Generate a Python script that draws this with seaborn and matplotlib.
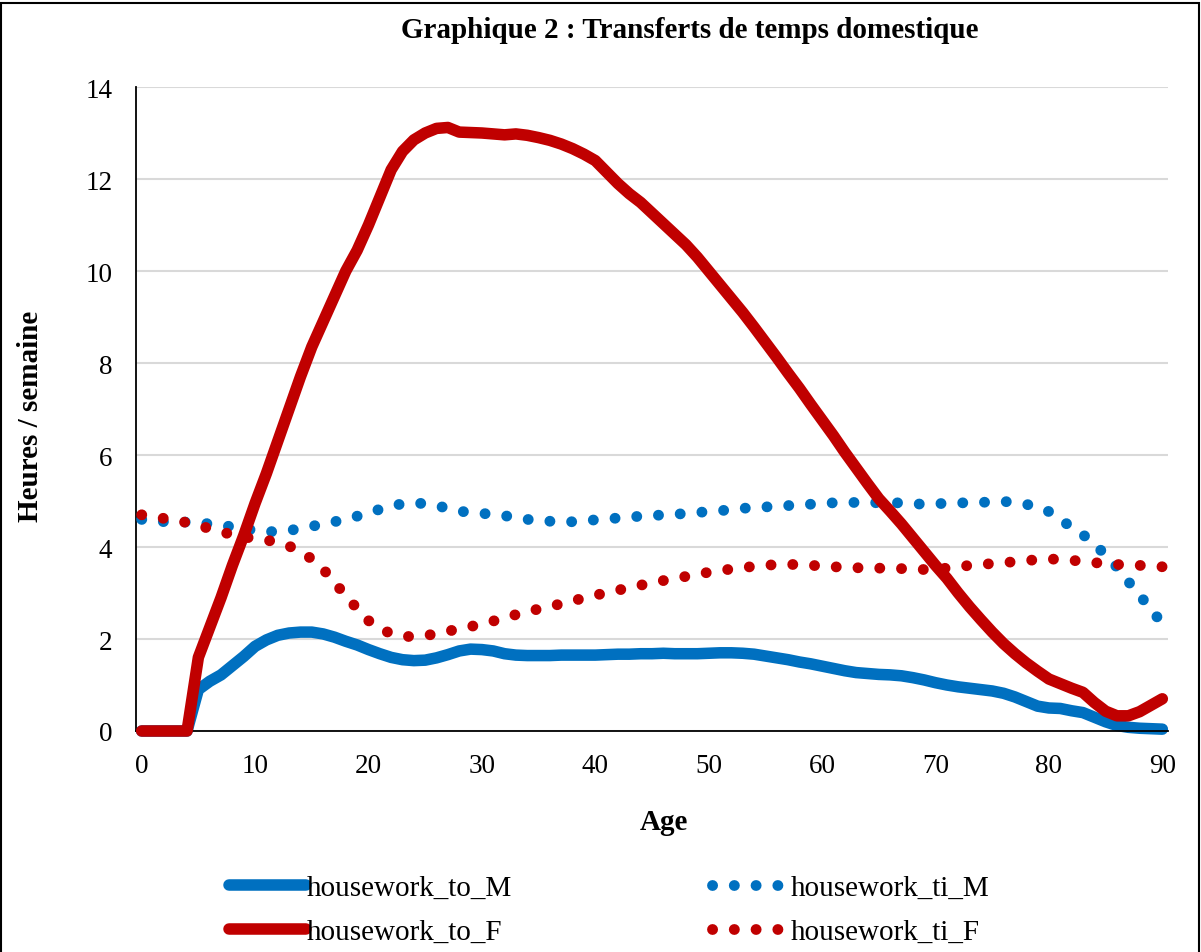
import numpy as np
import pandas as pd
import matplotlib
matplotlib.use("Agg")
import matplotlib.pyplot as plt
import matplotlib.patches as mpatches
import seaborn as sns

# ── Data (hours / week by age) ─────────────────────────────────
ages = list(range(0, 91))

housework_to_M = [
    0, 0, 0, 0, 0, 0.90, 1.08, 1.22, 1.42, 1.62,
    1.84, 1.98, 2.08, 2.13, 2.15, 2.15, 2.11, 2.04, 1.95, 1.87,
    1.77, 1.68, 1.60, 1.55, 1.53, 1.54, 1.59, 1.66, 1.74, 1.78,
    1.77, 1.74, 1.68, 1.65, 1.64, 1.64, 1.64, 1.65, 1.65, 1.65,
    1.65, 1.66, 1.67, 1.67, 1.68, 1.68, 1.69, 1.68, 1.68, 1.68,
    1.69, 1.70, 1.70, 1.69, 1.67, 1.63, 1.59, 1.55, 1.50, 1.46,
    1.41, 1.36, 1.31, 1.27, 1.25, 1.23, 1.22, 1.20, 1.16, 1.11,
    1.05, 1.00, 0.96, 0.93, 0.90, 0.87, 0.82, 0.74, 0.64, 0.54,
    0.50, 0.49, 0.44, 0.40, 0.30, 0.20, 0.12, 0.08, 0.06, 0.05,
    0.04,
]

housework_to_F = [
    0, 0, 0, 0, 0, 1.60, 2.25, 2.90, 3.60, 4.25,
    4.95, 5.60, 6.30, 7.00, 7.70, 8.35, 8.90, 9.45, 10.00, 10.45,
    11.00, 11.60, 12.20, 12.60, 12.85, 13.00, 13.10, 13.12, 13.02, 13.01,
    13.00, 12.98, 12.96, 12.98, 12.95, 12.90, 12.84, 12.76, 12.66, 12.54,
    12.40, 12.15, 11.90, 11.68, 11.49, 11.26, 11.03, 10.80, 10.57, 10.30,
    10.00, 9.70, 9.40, 9.10, 8.78, 8.45, 8.12, 7.78, 7.45, 7.10,
    6.76, 6.42, 6.06, 5.72, 5.38, 5.05, 4.78, 4.50, 4.20, 3.90,
    3.60, 3.32, 3.00, 2.70, 2.42, 2.15, 1.90, 1.68, 1.48, 1.30,
    1.13, 1.03, 0.93, 0.84, 0.62, 0.43, 0.33, 0.33, 0.42, 0.56,
    0.70,
]

housework_ti_M = [
    4.60, 4.57, 4.55, 4.55, 4.54, 4.53, 4.50, 4.47, 4.44, 4.40,
    4.36, 4.33, 4.34, 4.36, 4.40, 4.45, 4.50, 4.55, 4.60, 4.67,
    4.74, 4.82, 4.89, 4.94, 4.96, 4.94, 4.90, 4.84, 4.78, 4.75,
    4.73, 4.71, 4.68, 4.64, 4.60, 4.58, 4.56, 4.54, 4.55, 4.57,
    4.59, 4.61, 4.63, 4.65, 4.67, 4.68, 4.70, 4.71, 4.73, 4.75,
    4.77, 4.79, 4.81, 4.84, 4.86, 4.87, 4.89, 4.90, 4.92, 4.93,
    4.95, 4.96, 4.96, 4.97, 4.97, 4.96, 4.96, 4.96, 4.94, 4.93,
    4.94, 4.95, 4.96, 4.96, 4.97, 4.98, 4.99, 4.97, 4.93, 4.86,
    4.77, 4.60, 4.43, 4.27, 4.06, 3.83, 3.56, 3.25, 2.95, 2.65,
    2.33,
]

housework_ti_F = [
    4.70, 4.66, 4.62, 4.58, 4.53, 4.47, 4.40, 4.33, 4.27, 4.22,
    4.18, 4.15, 4.10, 4.02, 3.90, 3.74, 3.52, 3.23, 2.94, 2.66,
    2.40, 2.22, 2.12, 2.06, 2.05, 2.07, 2.12, 2.17, 2.22, 2.27,
    2.33, 2.39, 2.46, 2.53, 2.60, 2.65, 2.70, 2.77, 2.83, 2.89,
    2.95, 3.01, 3.06, 3.12, 3.17, 3.22, 3.27, 3.32, 3.36, 3.41,
    3.45, 3.49, 3.52, 3.55, 3.58, 3.60, 3.62, 3.62, 3.62, 3.60,
    3.59, 3.57, 3.56, 3.55, 3.54, 3.54, 3.54, 3.53, 3.52, 3.51,
    3.52, 3.54, 3.57, 3.60, 3.62, 3.64, 3.66, 3.68, 3.70, 3.73,
    3.74, 3.73, 3.71, 3.69, 3.66, 3.64, 3.62, 3.61, 3.60, 3.59,
    3.57,
]

x_labels = ["0", "10", "20", "30", "40", "50", "60", "70", "80", "90"]
y_ticks = [0, 2, 4, 6, 8, 10, 12, 14]

# ── Style ──────────────────────────────────────────────────────
sns.set_theme(style="white")
plt.rcParams["font.family"] = ["Liberation Serif", "DejaVu Serif"]
plt.rcParams.update({
    "text.color": "black",
    "xtick.color": "black",
    "ytick.color": "black",
    "axes.labelcolor": "black",
})

BLUE = "#0070C0"
RED = "#C00000"
GRID = "#D9D9D9"
DOTS = (0, (0.01, 2.0))

df = pd.DataFrame({
    "age": ages,
    "housework_to_M": housework_to_M,
    "housework_to_F": housework_to_F,
    "housework_ti_M": housework_ti_M,
    "housework_ti_F": housework_ti_F,
})

fig = plt.figure(figsize=(12.01, 9.53), dpi=100)
fig.patch.set_facecolor("white")
ax = fig.add_axes([136 / 1201, 1 - 732 / 953, (1168 - 136) / 1201, (732 - 88) / 953])

series = [
    ("housework_to_M", BLUE, "-", 2),
    ("housework_ti_M", BLUE, DOTS, 3),
    ("housework_to_F", RED, "-", 4),
    ("housework_ti_F", RED, DOTS, 5),
]
for name, col, ls, z in series:
    sns.lineplot(data=df, x="age", y=name, ax=ax, color=col,
                 linewidth=8.3 if ls == "-" else 7.8,
                 linestyle=ls, label=name, zorder=z)

for line in ax.get_lines():
    line.set_dash_capstyle("round")
    line.set_solid_capstyle("round")
    line.set_solid_joinstyle("round")
    line.set_clip_on(False)

if ax.get_legend() is not None:
    ax.get_legend().remove()

# axes
ax.set_xlim(-0.5, 90.5)
ax.set_ylim(0, 14)
ax.set_yticks(y_ticks)
ax.set_yticklabels([str(t) for t in y_ticks], fontsize=19.5)
ax.set_xticks(list(range(0, 91, 10)))
ax.set_xticklabels(x_labels, fontsize=19.5)
ax.set_xticks([k - 0.5 for k in range(5, 91, 5)], minor=True)
ax.tick_params(axis="x", which="major", length=0, pad=16)
ax.tick_params(axis="x", which="minor", length=6, width=1.3, direction="out", color="black")
ax.tick_params(axis="y", which="major", length=6, width=1.3, direction="out", color="black", pad=11)
ax.yaxis.grid(True, color=GRID, linewidth=1.5)
ax.set_axisbelow(True)
for side in ["top", "right"]:
    ax.spines[side].set_visible(False)
for side in ["left", "bottom"]:
    ax.spines[side].set_color("black")
    ax.spines[side].set_linewidth(1.3)
ax.set_xlabel("")
ax.set_ylabel("")

fig.text(690 / 1201, 1 - 31 / 953, "Graphique 2 : Transferts de temps domestique",
         ha="center", va="center", fontsize=21, fontweight="bold")
fig.text(31 / 1201, 1 - 416 / 953, "Heures / semaine", rotation=90,
         ha="center", va="center", fontsize=21, fontweight="bold")
fig.text(664 / 1201, 1 - 823 / 953, "Age", ha="center", va="center",
         fontsize=21, fontweight="bold")

handles, labels = ax.get_legend_handles_labels()
order = ["housework_to_M", "housework_to_F", "housework_ti_M", "housework_ti_F"]
hmap = dict(zip(labels, handles))
fig.legend([hmap[k] for k in order], order, ncol=2, loc="center",
           bbox_to_anchor=(609 / 1201, 1 - 911 / 953), frameon=False,
           fontsize=21, handlelength=2.64, handletextpad=0.05, columnspacing=6.85,
           labelspacing=0.6)

# outer frame
fig.add_artist(mpatches.Rectangle((0.0012, -0.05), 0.9975, 1.046, transform=fig.transFigure,
                                  fill=False, edgecolor="black", linewidth=1.5))

plt.savefig("out.png", dpi=100)
plt.close()
